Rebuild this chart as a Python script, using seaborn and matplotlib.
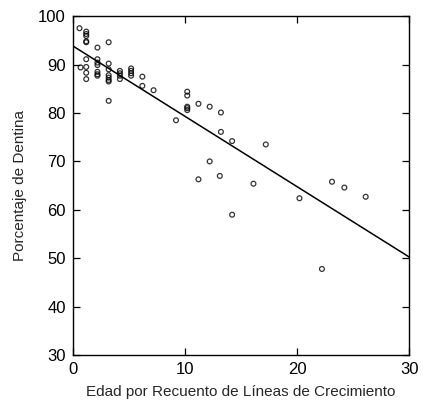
import numpy as np
import pandas as pd
import matplotlib
matplotlib.use('Agg')
import matplotlib.pyplot as plt
import seaborn as sns

# edad (x) and porcentaje de dentina (y)
edad = [0.6, 1.2, 1.2, 1.2, 1.2, 1.2, 1.2, 0.7, 1.2, 1.2, 1.2,
        2.2, 2.2, 2.2, 2.2, 2.2, 2.2, 2.2,
        3.2, 3.2, 3.2, 3.2, 3.2, 3.2, 3.2, 3.2,
        4.2, 4.2, 4.2, 4.2, 5.2, 5.2, 5.2, 5.2,
        6.2, 6.2, 7.2, 9.2,
        10.2, 10.2, 10.2, 10.2, 10.2,
        11.2, 12.2, 13.2, 13.2, 14.2, 17.2, 12.2, 11.2, 13.1, 16.1, 14.2,
        20.2, 22.2, 23.1, 24.2, 26.1]
dentina = [97.5, 96.8, 96.3, 95.9, 94.8, 94.6, 91.1, 89.4, 89.5, 88.3, 87.0,
           93.5, 91.1, 90.4, 89.9, 88.5, 88.0, 87.7,
           94.6, 90.2, 89.0, 87.8, 87.3, 86.8, 86.5, 82.5,
           88.7, 88.2, 87.7, 87.0, 89.2, 88.7, 88.2, 87.7,
           87.5, 85.6, 84.7, 78.5,
           84.4, 83.6, 81.3, 81.0, 80.6,
           81.9, 81.3, 80.1, 76.1, 74.2, 73.5, 70.0, 66.3, 67.0, 65.4, 59.0,
           62.4, 47.8, 65.8, 64.6, 62.7]

df = pd.DataFrame({'edad': edad, 'dentina': dentina})

sns.set_style('ticks')
plt.rcParams['font.family'] = ['Liberation Sans', 'DejaVu Sans']

fig = plt.figure(figsize=(4.23, 4.13), dpi=100)
ax = fig.add_axes([0.172, 0.140, 0.796, 0.821])
ax.set_xlim(0, 30)
ax.set_ylim(30, 100)

sns.regplot(data=df, x='edad', y='dentina', ax=ax, ci=None, truncate=False,
            scatter_kws=dict(marker='o', s=12, facecolors='none', edgecolors='black', linewidths=0.9),
            line_kws=dict(color='black', lw=1.1))

ax.set_xlim(0, 30)
ax.set_ylim(30, 100)
ax.set_xticks([0, 10, 20, 30])
ax.set_yticks([30, 40, 50, 60, 70, 80, 90, 100])
ax.tick_params(direction='in', top=True, right=True, length=5, width=0.9,
               labelsize=12, colors='black', pad=5)
for s in ax.spines.values():
    s.set_linewidth(1.0)
    s.set_color('black')
ax.set_xlabel('Edad por Recuento de Líneas de Crecimiento', fontsize=11, labelpad=6)
ax.set_ylabel('Porcentaje de Dentina', fontsize=11, labelpad=8)

fig.savefig('out.png', dpi=100)
